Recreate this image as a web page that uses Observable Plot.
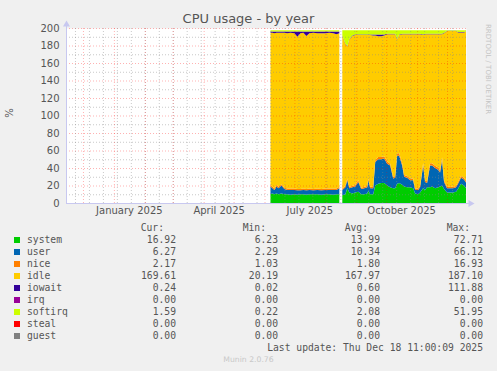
<!DOCTYPE html>
<html><head><meta charset="utf-8">
<script src="https://cdn.jsdelivr.net/npm/d3@7"></script>
<script src="https://cdn.jsdelivr.net/npm/@observablehq/plot@0.6"></script>
<style>
body{margin:0;background:#f0f0f0;}
#root{position:relative;width:497px;height:371px;overflow:hidden;background:#f0f0f0;font-family:"DejaVu Sans",sans-serif;color:#555;}
#root svg{position:absolute;left:0;top:0;}
.abs{position:absolute;white-space:pre;}
.mono{font-family:"DejaVu Sans Mono",monospace;font-size:9.7px;line-height:12px;height:12px;}
</style></head><body><div id="root"></div>
<script>
// ---- data ----
const seriesNames = ["system","user","nice","idle","iowait","irq","softirq","steal","guest"];
const seriesColors = ["#00CC00","#0066B3","#FF8000","#FFCC00","#330099","#990099","#CCFF00","#FF0000","#808080"];
const stackOrder = ["system","user","nice","idle","iowait","softirq"];
const gapStart = "2025-08-16";

const dates = ["2025-06-07","2025-06-09","2025-06-11","2025-06-13","2025-06-15","2025-06-18","2025-06-21","2025-06-24","2025-06-27","2025-07-01","2025-07-04","2025-07-07","2025-07-10","2025-07-13","2025-07-16","2025-07-20","2025-07-24","2025-07-28","2025-08-01","2025-08-05","2025-08-09","2025-08-12","2025-08-15",
"2025-08-18","2025-08-21","2025-08-23","2025-08-25","2025-08-28","2025-08-31","2025-09-03","2025-09-06","2025-09-09","2025-09-12","2025-09-13","2025-09-15","2025-09-18","2025-09-20","2025-09-23","2025-09-26","2025-09-29","2025-10-02","2025-10-05","2025-10-08","2025-10-10","2025-10-12","2025-10-14","2025-10-17","2025-10-19","2025-10-22","2025-10-25","2025-10-28","2025-10-30","2025-11-02","2025-11-04","2025-11-07","2025-11-09","2025-11-11","2025-11-14","2025-11-16","2025-11-19","2025-11-22","2025-11-24","2025-11-26","2025-11-28","2025-12-01","2025-12-04","2025-12-07","2025-12-10","2025-12-12","2025-12-15","2025-12-18","2025-12-20"];

const system = [10,11,10,11,10,11,10,10,9.5,10,9.5,10,10,9.5,10,10,10,9.5,10,10,9.5,10,10,
9,10,17,12,11,12,13,10,10,11,14,10,10,20,22,23,23,20,18,17,17,22,23,21,19,18,18,17,11,10,12,17,15,18,18,19,17,18,19,20,16,12,12,12,13,16,22,20,17];
const user = [9,6,5,8,7,9,6,5,5.5,5,5,4.5,5,5,5,4.5,5,5,5,5,5.5,5,7,
6,8,9,5,7,7,11,6,7,7,12,7,7,27,28,27,28,25,25,11,12,32,31,22,11,11,8,9,4,5,6,26,9,5,25,24,23,20,16,29,8,5,5,5,5,6,7,7,6.3];
const nice = [1.5,1.5,1.5,1.5,1.5,1.5,1.5,1.5,1.5,1.5,1.5,1.5,1.5,1.5,1.5,1.5,1.5,1.5,1.5,1.5,1.5,1.5,1.5,
1.5,1.5,2,1.5,1.5,1.5,2,1.5,1.5,1.5,2,1.5,1.5,2,2.5,2.5,2.5,2.5,2,2,2,3,3,2.5,2,2,2,2,1.5,1.5,1.5,2.5,2,2,2.5,2.5,2.5,2.5,2,3,2,1.5,1.5,1.5,1.5,2,2,2,2.2];
const idle = [174,176,177.5,174,176,173,177,177.5,178,177.5,174,178,178,175,177.5,178.5,177.5,178,177.5,178,177.5,176.5,175.5,
174.5,162.5,151,168.5,171.5,171.5,166,174.5,173.5,172.5,164,173.5,173,142.5,138,138,138,145.5,148,163,162,130,135,147.5,161,162,165,165,176.5,176.5,173.5,146.5,167,168,147.5,147.5,150.5,152.5,156,141,168,178,178,178,177,171,164,166,170.2];
const iowait = [1.5,1.5,2,1.5,1.5,1.5,1.5,2,1.5,2,6,2,1.5,5,2,1.5,2,2,2,1.5,2,3,2,
0.5,0.5,0.5,0.5,0.5,0.5,0.5,0.5,0.5,0.5,0.5,0.5,1,1,2,2,1,0.5,0.5,0.5,0.5,0.5,0.5,0.5,0.5,0.5,0.5,0.5,0.5,0.5,0.5,0.5,0.5,0.5,0.5,0.5,0.5,0.5,0.5,0.5,0.5,0.5,0.5,0.5,0.5,0.5,0.5,0.5,0.2];
const softirq = [1.5,1.5,1.5,1.5,1.5,1.5,1.5,1.5,1.5,1.5,1.5,1.5,1.5,1.5,1.5,1.5,1.5,1.5,1.5,1.5,1.5,1.5,1.5,
6,15,18,10,6,5,5,5,5,5,5,5,5,5,5,5,5,4,4,4,4,10,5,4,4,4,4,4,4,4,4,5,4,4,4,4,4,4,4,4,3,0.5,0.5,0.5,0.5,2,2,2,1.6];

const legendCur = [16.92,6.27,2.17,169.61,0.24,0.00,1.59,0.00,0.00];
const legendMin = [6.23,2.29,1.03,20.19,0.02,0.00,0.22,0.00,0.00];
const legendAvg = [13.99,10.34,1.80,167.97,0.60,0.00,2.08,0.00,0.00];
const legendMax = [72.71,66.12,16.93,187.10,111.88,0.00,51.95,0.00,0.00];

const yTicks = [0,20,40,60,80,100,120,140,160,180,200];
const yMinor = [10,30,50,70,90,110,130,150,170,190];
const xLabelDates = ["2025-01-16","2025-04-16","2025-07-16","2025-10-16"];
const xLabelText = ["January 2025","April 2025","July 2025","October 2025"];
const xDomain = ["2024-11-14","2025-12-20"];

// ---- build ----
const seriesValues = {system, user, nice, idle, iowait, softirq};
const rows = [];
dates.forEach((d, i) => {
  for (const s of stackOrder) rows.push({date: new Date(d), seg: d < gapStart ? 1 : 2, series: s, value: seriesValues[s][i]});
});
const d0 = new Date(xDomain[0]), d1 = new Date(xDomain[1]);
const majorX = d3.utcMonth.range(d3.utcMonth.ceil(d0), d1);
const minorX = d3.utcDay.range(new Date("2024-11-23"), d1, 14);
const lab = new Map(xLabelDates.map((d, i) => [+new Date(d), xLabelText[i]]));

const area = seg => Plot.areaY(rows.filter(r => r.seg === seg), {x: "date", y: "value", fill: "series", order: stackOrder});

const chart = Plot.plot({
  width: 497, height: 222,
  marginLeft: 66, marginRight: 31, marginTop: 28, marginBottom: 19,
  x: {type: "utc", domain: [d0, d1]},
  y: {domain: [0, 200]},
  color: {domain: seriesNames, range: seriesColors},
  style: {background: "transparent", fontFamily: "DejaVu Sans", fontSize: "10px", color: "#555", overflow: "visible"},
  marks: [
    Plot.frame({fill: "white", stroke: null}),
    area(1), area(2),
    Plot.ruleY(yMinor, {stroke: "#888", strokeOpacity: 0.45, strokeDasharray: "1,2"}),
    Plot.ruleY(yTicks.filter(v => v > 0), {stroke: "#ff0000", strokeOpacity: 0.3, strokeDasharray: "1,2"}),
    Plot.ruleX(minorX, {stroke: "#888", strokeOpacity: 0.45, strokeDasharray: "1,2", insetBottom: -2}),
    Plot.ruleX(majorX, {stroke: "#ff0000", strokeOpacity: 0.3, strokeDasharray: "1,2", insetBottom: -2}),
    Plot.ruleY([0], {stroke: "#c8c8f0", insetRight: -3}),
    Plot.ruleX([d0], {stroke: "#c8c8f0", insetTop: -4}),
    Plot.dot([0], {x: () => d0, y: 200, symbol: "triangle", r: 2.6, fill: "#c8c8f0", dy: -4}),
    Plot.dot([0], {x: () => d1, y: 0, symbol: "triangle", r: 2.6, fill: "#c8c8f0", rotate: 90, dx: 4}),
    Plot.axisY(yTicks, {tickSize: 0, tickPadding: 7, label: null, fill: "#555", fontSize: 10}),
    Plot.axisX(xLabelDates.map(d => new Date(d)), {tickSize: 0, tickPadding: 3, label: null, fill: "#555", fontSize: 10, tickFormat: d => lab.get(+d)})
  ]
});

const root = document.getElementById("root");
root.appendChild(chart);

function addDiv(cls, text, style) {
  const el = document.createElement("div");
  el.className = cls;
  el.textContent = text;
  Object.assign(el.style, style);
  root.appendChild(el);
  return el;
}
addDiv("abs", "CPU usage - by year", {left: "0px", width: "497px", textAlign: "center", top: "11px", fontSize: "13px", lineHeight: "16px", color: "#555"});
addDiv("abs", "%", {left: "3px", top: "107px", fontSize: "10px", lineHeight: "12px", transform: "rotate(-90deg)", transformOrigin: "50% 50%", width: "14px", textAlign: "center"});
addDiv("abs", "RRDTOOL / TOBI OETIKER", {left: "492px", top: "24px", fontSize: "7px", lineHeight: "9px", color: "#c4c4c4", transform: "rotate(90deg)", transformOrigin: "0 0"});

// legend
const colRight = [176, 278, 380, 483];
const headRight = [164, 266, 368, 470];
["Cur:","Min:","Avg:","Max:"].forEach((h, j) => addDiv("abs mono", h, {left: (headRight[j] - 60) + "px", width: "60px", textAlign: "right", top: "222px"}));
const cols = [legendCur, legendMin, legendAvg, legendMax];
seriesNames.forEach((name, i) => {
  const yc = 240 + i * 12;
  addDiv("abs", "", {left: "14px", top: (yc - 3) + "px", width: "6px", height: "6px", background: seriesColors[i]});
  addDiv("abs mono", name, {left: "27px", top: (yc - 6) + "px"});
  cols.forEach((arr, j) => addDiv("abs mono", arr[i].toFixed(2), {left: (colRight[j] - 80) + "px", width: "80px", textAlign: "right", top: (yc - 6) + "px"}));
});
addDiv("abs mono", "Last update: Thu Dec 18 11:00:09 2025", {left: "183px", width: "300px", textAlign: "right", top: "342px"});
addDiv("abs", "Munin 2.0.76", {left: "0px", width: "497px", textAlign: "center", top: "355px", fontSize: "7.7px", lineHeight: "10px", color: "#c8c8c8"});
</script></body></html>
